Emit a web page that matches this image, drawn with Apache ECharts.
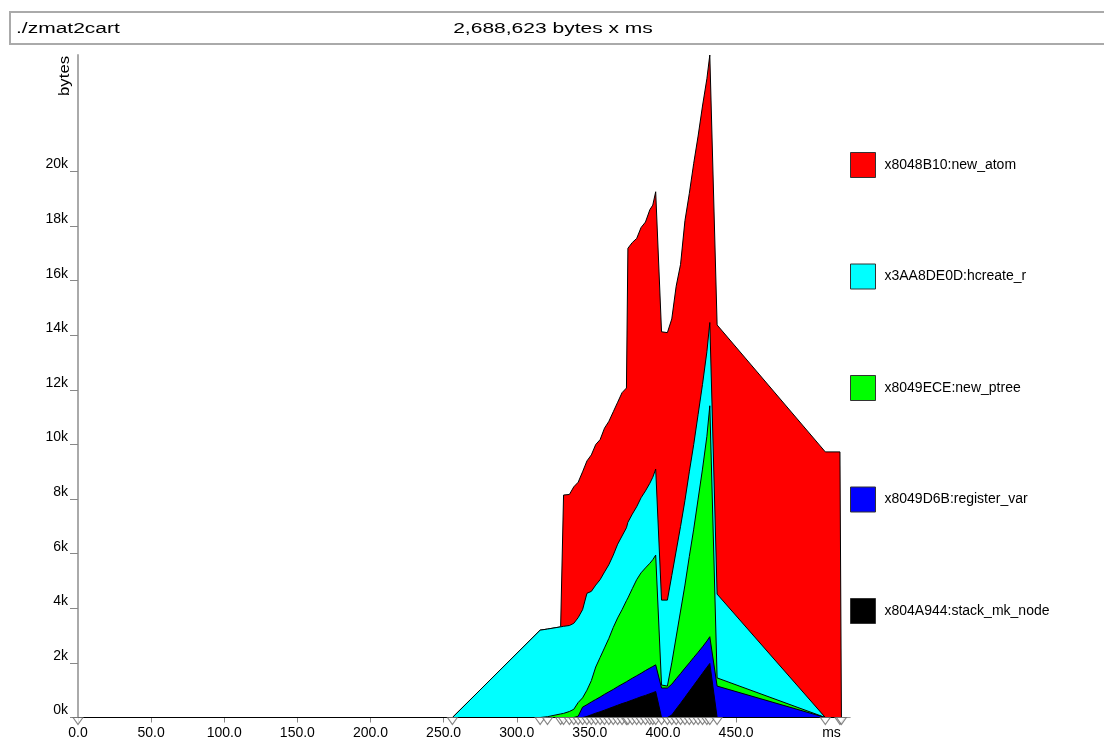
<!DOCTYPE html>
<html>
<head>
<meta charset="utf-8">
<script src="https://cdn.jsdelivr.net/npm/echarts@6/dist/echarts.min.js"></script>
<style>
  html, body { margin: 0; padding: 0; background: #fff; }
  #chart { width: 1104px; height: 744px; }
</style>
</head>
<body>
<div id="chart"></div>
<script>
// sample times (ms)
const times = [0, 256, 316, 321, 330, 332, 336, 339, 342, 345, 348, 351, 354, 357, 360, 363, 366, 369, 372, 375, 376, 379, 382, 385, 388, 391, 393, 395, 399, 403, 406, 409, 412, 415, 418, 421, 424, 427, 430, 432, 437, 511, 521, 522];

// bytes per band (bottom to top)
const stackMkNode = [0, 0, 0, 0, 0, 0, 0, 0, 0, 0, 40, 100, 160, 210, 270, 330, 390, 450, 510, 560, 580, 640, 700, 760, 810, 870, 910, 950, 0, 0, 90, 310, 520, 740, 960, 1180, 1400, 1620, 1840, 1980, 0, 0, 0, 0];
const registerVar = [0, 0, 0, 0, 0, 0, 0, 0, 50, 380, 430, 470, 500, 540, 580, 610, 640, 680, 710, 750, 760, 800, 830, 860, 910, 940, 960, 980, 1080, 1080, 1130, 1110, 1090, 1070, 1040, 1020, 990, 970, 960, 980, 1150, 0, 0, 0];
const newPtree = [0, 0, 0, 30, 130, 150, 220, 300, 500, 340, 530, 780, 1190, 1450, 1700, 1960, 2270, 2520, 2730, 2970, 3040, 3280, 3520, 3680, 3760, 3840, 3910, 4020, 110, 70, 780, 1530, 2290, 3040, 3900, 4700, 5610, 6510, 7500, 8460, 300, 0, 0, 0];
const hcreateR = [0, 0, 3200, 3210, 3190, 3190, 3150, 3150, 3110, 3230, 3550, 3270, 3000, 2850, 2780, 2700, 2650, 2700, 2700, 2670, 2770, 2730, 2670, 2750, 2820, 2930, 3020, 3150, 3110, 3150, 3200, 3150, 3100, 3100, 3100, 3100, 3100, 3100, 3100, 3050, 3070, 0, 0, 0];
const newAtom = [0, 0, 0, 0, 0, 4810, 4800, 5000, 4960, 5050, 4850, 5000, 5150, 5130, 5270, 5250, 5250, 5200, 5250, 5120, 10040, 9950, 9830, 9900, 9850, 10020, 9970, 10160, 9830, 9800, 9400, 9700, 9600, 10250, 10200, 10300, 10200, 10200, 10000, 9800, 9860, 9730, 9730, 0];

const seriesNames = ['x804A944:stack_mk_node', 'x8049D6B:register_var', 'x8049ECE:new_ptree', 'x3AA8DE0D:hcreate_r', 'x8048B10:new_atom'];
const seriesColors = ['#000000', '#0000ff', '#00ff00', '#00ffff', '#ff0000'];
const seriesValues = [stackMkNode, registerVar, newPtree, hcreateR, newAtom];

const xTicks = [0, 50, 100, 150, 200, 250, 300, 350, 400, 450];
const yTicks = [0, 2000, 4000, 6000, 8000, 10000, 12000, 14000, 16000, 18000, 20000];

const programName = './zmat2cart';
const totalText = '2,688,623 bytes x ms';

const FONT = 'Liberation Sans';

// cumulative band tops (stacking), bottom band first
const cumulative = [];
seriesValues.forEach((vals, i) => {
  cumulative.push(vals.map((v, j) => v + (i > 0 ? cumulative[i - 1][j] : 0)));
});

// draw top band first (painter's order), each filled down to the baseline
const areaSeries = seriesNames.map((name, i) => ({
  name: name,
  type: 'line',
  data: times.map((t, j) => [t, cumulative[i][j]]),
  showSymbol: false,
  symbol: 'none',
  color: seriesColors[i],
  lineStyle: { color: '#000', width: 1 },
  areaStyle: { color: seriesColors[i], opacity: 1, origin: 'start' },
  itemStyle: { color: seriesColors[i] },
  z: 2 + (seriesNames.length - i) * 0.01,
  zlevel: 0
})).reverse();

const sampleMarks = {
  name: 'samples',
  type: 'scatter',
  data: times.map(t => [t, 0]),
  symbol: 'triangle',
  symbolRotate: 180,
  symbolSize: [10, 7],
  symbolOffset: [0, 3.5],
  itemStyle: { color: '#fff', borderColor: '#666', borderWidth: 1 },
  clip: false,
  silent: true,
  z: 5
};

const chart = echarts.init(document.getElementById('chart'), null, { renderer: 'canvas' });
chart.setOption({
  animation: false,
  backgroundColor: '#fff',
  textStyle: { fontFamily: FONT },
  grid: { left: 78, right: 253.8, top: 55, bottom: 26.5, containLabel: false },
  xAxis: {
    type: 'value',
    min: 0,
    max: 528,
    interval: 50,
    name: 'ms',
    nameLocation: 'end',
    nameGap: -28,
    nameTextStyle: { fontFamily: FONT, fontSize: 14, color: '#000', verticalAlign: 'top', padding: [9, 0, 0, 0] },
    axisLine: { show: true, lineStyle: { color: '#999', width: 1 } },
    axisTick: { show: true, length: 5, lineStyle: { color: '#888' }, customValues: xTicks },
    axisLabel: { show: true, fontFamily: FONT, fontSize: 14, color: '#000', margin: 9, customValues: xTicks, formatter: v => v.toFixed(1) },
    splitLine: { show: false }
  },
  yAxis: {
    type: 'value',
    min: 0,
    max: 24270,
    axisLine: { show: true, lineStyle: { color: '#aaa', width: 2 } },
    axisTick: { show: true, length: 8, lineStyle: { color: '#888' }, customValues: yTicks },
    axisLabel: { show: true, fontFamily: FONT, fontSize: 14, color: '#000', margin: 10, verticalAlign: 'bottom', customValues: yTicks, formatter: v => (v / 1000) + 'k' },
    splitLine: { show: false }
  },
  legend: {
    orient: 'vertical',
    left: 850,
    top: 152,
    padding: 0,
    itemWidth: 25,
    itemHeight: 25,
    itemGap: 85.5,
    icon: 'rect',
    data: ['x8048B10:new_atom', 'x3AA8DE0D:hcreate_r', 'x8049ECE:new_ptree', 'x8049D6B:register_var', 'x804A944:stack_mk_node'],
    itemStyle: { borderColor: '#333', borderWidth: 1 },
    lineStyle: { width: 0, opacity: 0 },
    textStyle: { fontFamily: FONT, fontSize: 14, color: '#000', padding: [0, 0, 0, 4] },
    selectedMode: false
  },
  graphic: [
    { type: 'rect', shape: { x: 10, y: 12, width: 1110, height: 32 }, style: { fill: '#fff', stroke: '#aaa', lineWidth: 2 }, z: 0 },
    { type: 'text', x: 16, y: 29, scaleX: 1.5, style: { text: programName, font: '14px "Liberation Sans"', fill: '#000', align: 'left', verticalAlign: 'middle' }, z: 1 },
    { type: 'text', x: 553, y: 29, scaleX: 1.5, style: { text: totalText, font: '14px "Liberation Sans"', fill: '#000', align: 'center', verticalAlign: 'middle' }, z: 1 },
    { type: 'text', x: 58, y: 96, rotation: Math.PI / 2, scaleX: 1.2, style: { text: 'bytes', font: '14px "Liberation Sans"', fill: '#000', align: 'left', verticalAlign: 'top' }, z: 1 }
  ],
  series: areaSeries.concat([sampleMarks])
});
</script>
</body>
</html>
